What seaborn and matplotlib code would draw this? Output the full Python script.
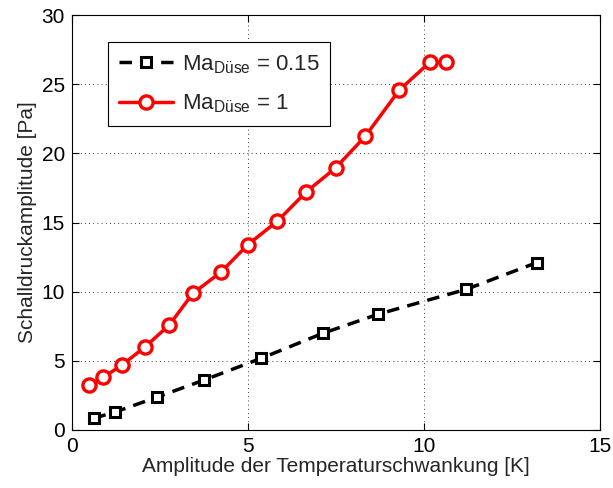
"""Schalldruckamplitude über Temperaturschwankung, zwei Düsen-Machzahlen."""
import matplotlib
matplotlib.use("Agg")
import matplotlib.pyplot as plt
import pandas as pd
import seaborn as sns

# Ma_Düse = 0.15
dT_015 = [0.62, 1.24, 2.41, 3.76, 5.38, 7.13, 8.70, 11.2, 13.2]
p_015 = [0.84, 1.30, 2.36, 3.61, 5.18, 6.99, 8.37, 10.17, 12.1]

# Ma_Düse = 1
dT_1 = [0.48, 0.90, 1.43, 2.07, 2.77, 3.44, 4.23, 5.0, 5.84, 6.65, 7.49,
        8.33, 9.30, 10.16, 10.62]
p_1 = [3.23, 3.81, 4.70, 5.98, 7.59, 9.88, 11.40, 13.4, 15.1, 17.2, 18.95,
       21.23, 24.58, 26.58, 26.58]

label_015 = "Ma$_{\\mathregular{Düse}}$ = 0.15"
label_1 = "Ma$_{\\mathregular{Düse}}$ = 1"

sns.set_style("ticks")
plt.rcParams["font.family"] = ["Liberation Sans", "DejaVu Sans"]
plt.rcParams["mathtext.default"] = "regular"

df_a = pd.DataFrame({"x": dT_015, "y": p_015})
df_b = pd.DataFrame({"x": dT_1, "y": p_1})

fig, ax = plt.subplots(figsize=(6.13, 4.88), dpi=100)
fig.subplots_adjust(left=0.117, right=0.979, bottom=0.119, top=0.969)

sns.lineplot(data=df_a, x="x", y="y", sort=False, ax=ax, color="black",
             lw=2.5, marker="s", markersize=7.5,
             markerfacecolor="white", markeredgecolor="black",
             markeredgewidth=2.2, label=label_015)
ax.lines[-1].set_dashes((3.6, 2.4))
sns.lineplot(data=df_b, x="x", y="y", sort=False, ax=ax, color="red",
             lw=2.5, marker="o", markersize=9.5, markerfacecolor="white",
             markeredgecolor="red", markeredgewidth=2.4, label=label_1)

ax.set_xlim(0, 15)
ax.set_ylim(0, 30)
ax.set_xticks([0, 5, 10, 15])
ax.set_yticks([0, 5, 10, 15, 20, 25, 30])
ax.grid(True, color="black", ls=(0, (1, 4)), lw=0.6)
ax.tick_params(direction="in", top=True, right=True, labelsize=15,
               length=5, width=0.8, colors="black", pad=5)
for s in ax.spines.values():
    s.set_color("black")
    s.set_linewidth(0.8)

ax.set_xlabel("Amplitude der Temperaturschwankung [K]", fontsize=15, labelpad=1)
ax.set_ylabel("Schalldruckamplitude [Pa]", fontsize=15, labelpad=3)

leg = ax.legend(loc="upper left", bbox_to_anchor=(0.069, 0.935), fontsize=16,
                frameon=True, fancybox=False, framealpha=1, edgecolor="black",
                handlelength=2.4, handletextpad=0.4, borderpad=0.5,
                labelspacing=0.75, borderaxespad=0)
leg.get_frame().set_linewidth(0.8)

fig.savefig("out.png", dpi=100)
